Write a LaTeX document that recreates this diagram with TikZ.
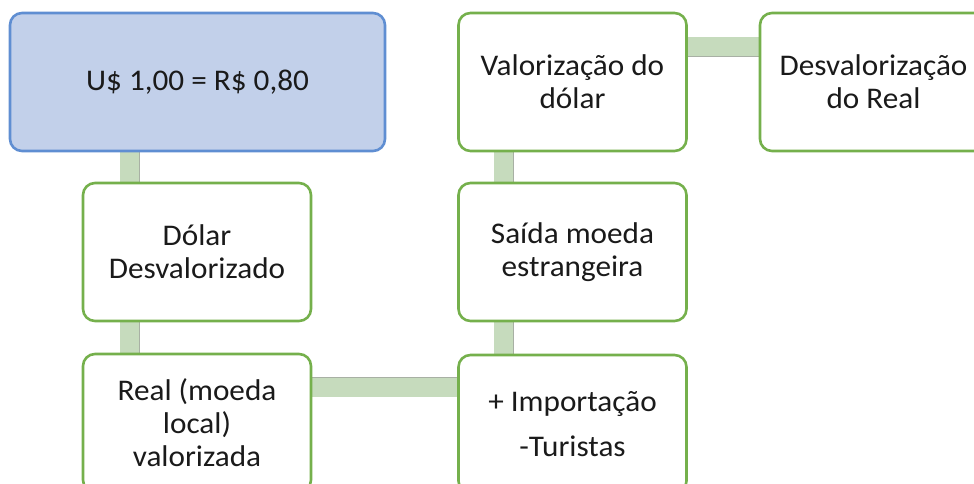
\documentclass[tikz,border=0pt]{standalone}
\usepackage{fontspec}
\setmainfont[FakeStretch=1.04]{Carlito}
\usetikzlibrary{backgrounds}
\definecolor{bluefill}{HTML}{C2D0EA}
\definecolor{blueedge}{HTML}{5F8ED2}
\definecolor{greenedge}{HTML}{75B04C}
\definecolor{connfill}{HTML}{C6DBBD}
\definecolor{connedge}{HTML}{A8B0A4}
\definecolor{txt}{HTML}{1A1A1A}
\tikzset{
  box/.style={draw=greenedge, line width=2.6pt, fill=white, rounded corners=12pt,
    minimum width=228pt, minimum height=138pt, align=center, text=txt,
    font=\fontsize{30pt}{33pt}\selectfont, inner sep=0pt},
  topbox/.style={box, draw=blueedge, fill=bluefill, minimum width=375pt},
  conn/.style={draw=connedge, line width=0.6pt, double=connfill, double distance=19pt}
}
\begin{document}
\begin{tikzpicture}[x=1pt,y=-1pt]
\useasboundingbox (0,0) rectangle (974,484);
\node[topbox] (top) at (197.5,82) {U\$ 1,00 = R\$ 0,80};
\node[box] (dolar) at (197,252) {Dólar\\Desvalorizado};
\node[box] (real) at (197,423) {Real (moeda\\local)\\valorizada};
\node[box] (imp) at (572.5,424) {+ Importação\\[12pt]-Turistas};
\node[box] (saida) at (572.5,252) {Saída moeda\\estrangeira};
\node[box] (valor) at (572.5,82) {Valorização do\\dólar};
\node[box, minimum width=227pt] (desv) at (873.5,82) {Desvalorização\\do Real};
\begin{scope}[on background layer]
\draw[conn] ([xshift=48pt]dolar.north west) -- ([xshift=48pt]dolar.north west |- top.south);
\draw[conn] ([xshift=48pt]real.north west) -- ([xshift=48pt]real.north west |- dolar.south);
\draw[conn] ([yshift=36pt]real.east) -- ([yshift=36pt]real.east -| imp.west);
\draw[conn] ([xshift=46.5pt]imp.north west) -- ([xshift=46.5pt]imp.north west |- saida.south);
\draw[conn] ([xshift=46.5pt]saida.north west) -- ([xshift=46.5pt]saida.north west |- valor.south);
\draw[conn] ([yshift=35pt]valor.east) -- ([yshift=35pt]valor.east -| desv.west);
\end{scope}
\end{tikzpicture}
\end{document}
